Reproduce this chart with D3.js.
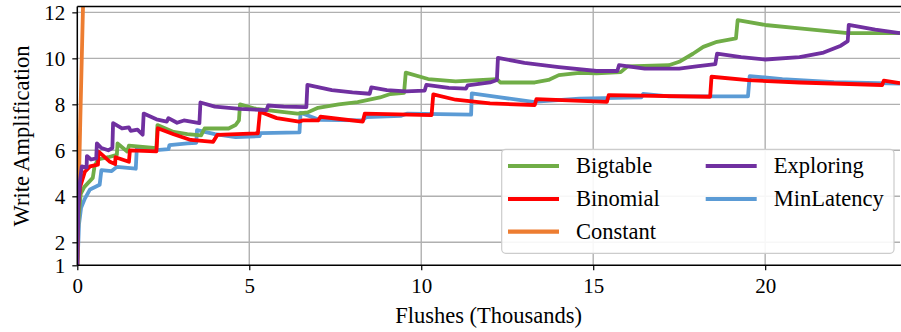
<!DOCTYPE html>
<html>
<head>
<meta charset="utf-8">
<script src="https://cdn.jsdelivr.net/npm/d3@7"></script>
<style>
  html, body { margin: 0; padding: 0; background: #fff; }
  svg { display: block; }
  svg text { font-family: "Liberation Serif", "Times New Roman", Times, serif; fill: #000; }
</style>
</head>
<body>
<svg id="chart" width="901" height="332"></svg>
<script>
// Write amplification per compaction strategy, x in thousands of flushes.
const seriesNames  = ["Bigtable", "Binomial", "Constant", "Exploring", "MinLatency"];
const seriesColors = ["#70ad47", "#ff0000", "#ed7d31", "#7030a0", "#5b9bd5"];

const bigtable = [
  [0,1],[0.03,3.0],[0.1,4.1],[0.2,4.4],[0.45,4.8],[0.5,5.3],[0.6,5.6],[0.9,5.7],[1.15,5.8],
  [1.17,6.3],[1.45,5.95],[1.5,6.2],[2.3,6.1],[2.33,7.1],[2.8,6.8],[3.2,6.7],[3.6,6.65],
  [3.7,6.95],[4.4,6.95],[4.6,7.1],[4.7,7.3],[4.73,8.0],[5.2,7.8],[6.4,7.6],[6.7,7.65],
  [7.0,7.85],[7.6,8.0],[8.15,8.1],[8.8,8.3],[9.1,8.45],[9.5,8.5],[9.55,9.38],[10.2,9.1],
  [11.0,9.0],[12.2,9.1],[12.3,8.95],[13.3,8.95],[13.7,9.06],[14.0,9.27],[14.6,9.37],
  [15.1,9.35],[15.8,9.4],[16.0,9.65],[17.2,9.7],[17.5,9.85],[17.9,10.2],[18.2,10.5],
  [18.6,10.72],[19.15,10.87],[19.2,11.66],[20.0,11.45],[21.0,11.3],[22.4,11.1],[23.92,11.1]
];
const binomial = [
  [0,1],[0.01,2.5],[0.03,3.6],[0.08,4.4],[0.22,5.07],[0.37,5.3],[0.6,5.38],[0.62,5.94],
  [0.95,5.5],[1.1,5.4],[1.11,5.7],[1.5,5.5],[1.53,6.0],[2.3,5.95],[2.34,6.96],[2.8,6.7],
  [3.3,6.45],[3.95,6.37],[4.07,6.67],[5.25,6.74],[5.31,7.68],[5.8,7.4],[6.45,7.25],
  [6.55,7.3],[7.0,7.3],[7.07,7.46],[8.3,7.25],[8.36,7.6],[10.3,7.53],[10.35,8.43],
  [11.0,8.2],[12.0,8.04],[13.3,7.97],[13.35,8.23],[15.4,8.11],[15.45,8.4],[18.4,8.33],
  [18.44,9.2],[19.5,9.05],[21.0,8.95],[23.4,8.84],[23.45,9.03],[23.92,8.92]
];
const constant = [
  [0,1],[0.03,3.0],[0.06,5.5],[0.09,7.5],[0.13,10.0],[0.17,12.5]
];
const exploring = [
  [0,1],[0.03,3.5],[0.08,4.7],[0.13,5.3],[0.27,5.25],[0.28,5.75],[0.4,5.6],[0.55,5.65],
  [0.57,6.3],[0.7,6.1],[0.9,6.0],[1.02,6.1],[1.04,7.18],[1.3,6.95],[1.5,7.0],[1.55,6.85],
  [1.75,6.9],[1.9,6.68],[1.93,7.6],[2.3,7.35],[2.6,7.25],[2.65,7.4],[2.9,7.2],[3.1,7.3],
  [3.55,7.18],[3.58,8.08],[4.0,7.9],[4.73,7.8],[5.5,7.75],[5.55,7.95],[6.0,7.9],
  [6.66,7.88],[6.69,8.85],[7.4,8.62],[8.0,8.52],[8.5,8.46],[8.55,8.74],[9.0,8.62],
  [9.55,8.56],[10.1,8.6],[10.15,8.85],[10.8,8.72],[11.3,8.68],[11.35,8.82],[12.0,8.95],
  [12.2,9.06],[12.23,10.02],[13.0,9.8],[14.0,9.62],[15.1,9.45],[15.7,9.45],[15.75,9.7],
  [16.5,9.55],[17.5,9.55],[18.0,9.65],[18.55,9.75],[18.6,10.2],[19.3,10.05],[20.0,9.95],
  [21.0,10.05],[21.7,10.25],[22.2,10.55],[22.4,10.75],[22.43,11.45],[23.2,11.25],[23.92,11.1]
];
const minLatency = [
  [0,1],[0.02,1.6],[0.05,2.8],[0.11,3.5],[0.22,3.9],[0.37,4.3],[0.65,4.5],[0.7,5.14],
  [1.0,5.1],[1.15,5.28],[1.7,5.2],[1.73,6.09],[2.2,6.0],[2.65,6.05],[2.68,6.23],[3.2,6.3],
  [3.46,6.33],[3.48,6.88],[4.0,6.7],[4.6,6.57],[5.3,6.62],[5.33,6.75],[6.46,6.78],
  [6.49,7.63],[7.05,7.32],[8.3,7.3],[8.4,7.45],[9.4,7.5],[9.6,7.6],[11.45,7.55],
  [11.47,8.48],[12.3,8.3],[13.25,8.11],[14.6,8.25],[16.4,8.3],[16.45,8.45],[17.2,8.35],
  [19.5,8.35],[19.55,9.23],[20.5,9.1],[22.0,8.97],[23.92,8.9]
];
const seriesData = [bigtable, binomial, constant, exploring, minLatency];
// stacking order of the lines (first = bottom)
const drawOrder = ["MinLatency", "Constant", "Bigtable", "Binomial", "Exploring"];

const xTicks = [0, 5, 10, 15, 20];
const yTicks = [1, 2, 4, 6, 8, 10, 12];
const xLabel = "Flushes (Thousands)";
const yLabel = "Write Amplification";

const svg = d3.select("#chart");
const plot = { left: 77.3, right: 900, top: 6.6, bottom: 265.3 };

const x = d3.scaleLinear().domain([0, 23.92]).range([plot.left, plot.right]);
const y = d3.scaleLinear().domain([1, 12.25]).range([plot.bottom, plot.top]);

// grid
const grid = svg.append("g").attr("stroke", "#b0b0b0").attr("stroke-width", 1.4);
grid.selectAll(".gx").data(xTicks.filter(d => d > 0)).join("line")
  .attr("x1", d => x(d)).attr("x2", d => x(d))
  .attr("y1", plot.top).attr("y2", plot.bottom);
grid.selectAll(".gy").data(yTicks.filter(d => d > 1)).join("line")
  .attr("x1", plot.left).attr("x2", plot.right)
  .attr("y1", d => y(d)).attr("y2", d => y(d));

// clip for the lines
svg.append("clipPath").attr("id", "plotClip").append("rect")
  .attr("x", plot.left).attr("y", plot.top)
  .attr("width", plot.right - plot.left).attr("height", plot.bottom - plot.top);

const line = d3.line().x(d => x(d[0])).y(d => y(d[1]));
const lines = svg.append("g").attr("clip-path", "url(#plotClip)");
drawOrder.forEach(name => {
  const i = seriesNames.indexOf(name);
  lines.append("path")
    .datum(seriesData[i])
    .attr("fill", "none")
    .attr("stroke", seriesColors[i])
    .attr("stroke-width", 3.8)
    .attr("stroke-linejoin", "round")
    .attr("d", line);
});

// axes
const xAxis = svg.append("g")
  .attr("transform", `translate(0,${plot.bottom})`)
  .call(d3.axisBottom(x).tickValues(xTicks).tickFormat(d3.format("d")).tickSize(5).tickPadding(8));
const yAxis = svg.append("g")
  .attr("transform", `translate(${plot.left},0)`)
  .call(d3.axisLeft(y).tickValues(yTicks).tickFormat(d3.format("d")).tickSize(5).tickPadding(7));
[xAxis, yAxis].forEach(a => {
  a.attr("font-family", null).attr("font-size", null);
  a.select(".domain").remove();
  a.selectAll(".tick line").attr("stroke", "#000").attr("stroke-width", 1.2);
  a.selectAll(".tick text").style("font-size", "21px");
});

// spines
const spines = svg.append("g").attr("stroke", "#000").attr("stroke-width", 1.5);
spines.append("line").attr("x1", plot.left).attr("x2", plot.left).attr("y1", plot.top).attr("y2", plot.bottom);
spines.append("line").attr("x1", plot.left).attr("x2", plot.right + 1).attr("y1", plot.bottom).attr("y2", plot.bottom);
spines.append("line").attr("x1", plot.left).attr("x2", plot.right + 1).attr("y1", plot.top).attr("y2", plot.top);

// axis titles
svg.append("text")
  .attr("x", (plot.left + plot.right) / 2).attr("y", 323)
  .attr("text-anchor", "middle").style("font-size", "22.5px").text(xLabel);
svg.append("text")
  .attr("transform", `translate(29,${(plot.top + plot.bottom) / 2}) rotate(-90)`)
  .attr("text-anchor", "middle").style("font-size", "22.5px").text(yLabel);

// legend
const legend = svg.append("g");
legend.append("rect")
  .attr("x", 501.7).attr("y", 149.3).attr("width", 392.3).attr("height", 104)
  .attr("rx", 4).attr("fill", "#fff").attr("fill-opacity", 0.9)
  .attr("stroke", "#cccccc").attr("stroke-width", 1.2);
const rowY = [166, 199, 231.7];
const colX = [508, 705.7];
seriesNames.forEach((name, i) => {
  const col = i < 3 ? 0 : 1;
  const row = i < 3 ? i : i - 3;
  const g = legend.append("g").attr("transform", `translate(${colX[col]},${rowY[row]})`);
  g.append("line").attr("x1", 0).attr("x2", 51).attr("y1", 0).attr("y2", 0)
    .attr("stroke", seriesColors[i]).attr("stroke-width", 4.2);
  g.append("text").attr("x", 68).attr("y", 0).attr("dy", "0.33em")
    .style("font-size", "22.5px").text(name);
});
</script>
</body>
</html>
